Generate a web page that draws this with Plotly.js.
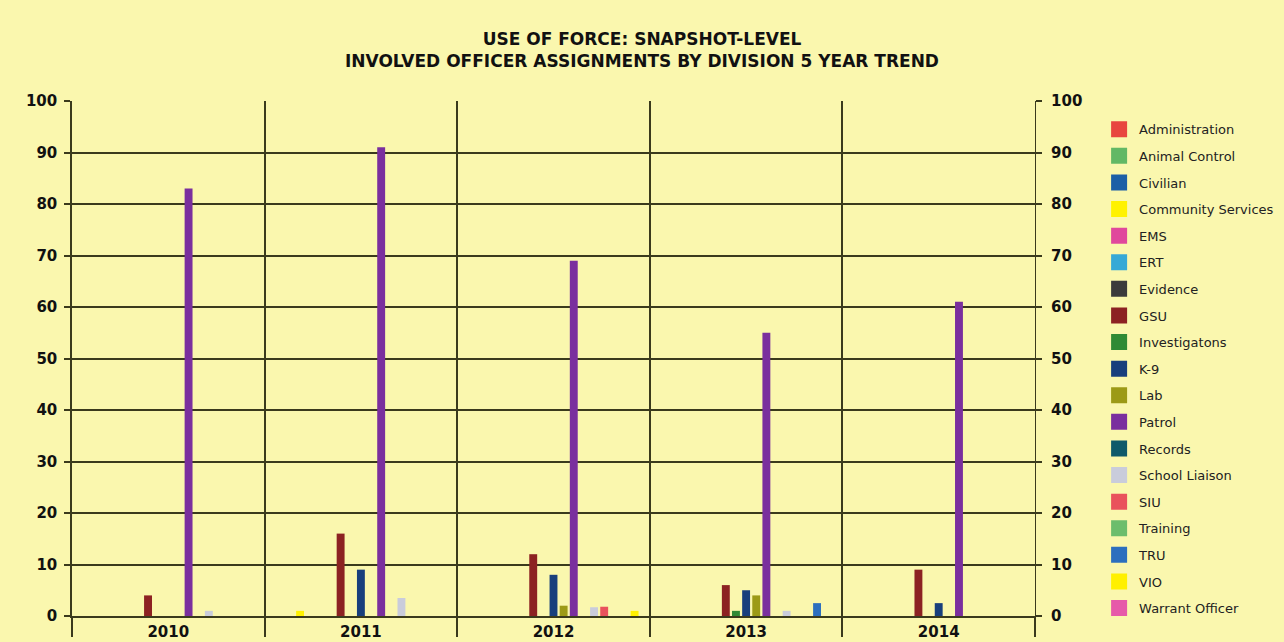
<!DOCTYPE html>
<html>
<head>
<meta charset="utf-8">
<script src="https://cdn.plot.ly/plotly-3.0.1.min.js"></script>
<style>html,body{margin:0;padding:0;background:#FAF7AE;}#chart{width:1284px;height:642px;}</style>
</head>
<body>
<div id="chart"></div>
<script>
const years = ['2010', '2011', '2012', '2013', '2014'];
const divisions = ['Administration', 'Animal Control', 'Civilian', 'Community Services', 'EMS', 'ERT', 'Evidence', 'GSU', 'Investigatons', 'K-9', 'Lab', 'Patrol', 'Records', 'School Liaison', 'SIU', 'Training', 'TRU', 'VIO', 'Warrant Officer'];
const colors = ['#E8463F', '#62B865', '#1C5FA6', '#FFF200', '#E0489C', '#36A9D6', '#3B3B3B', '#8C2222', '#2F8A35', '#183F7C', '#9C9A16', '#7A2F9E', '#0F5A6A', '#C9CCDB', '#E9525C', '#6CBD6C', '#2C6FBE', '#FFF000', '#E65AA9'];
// values per division, by year 2010..2014
const administration = [0, 0, 0, 0, 0];
const animalControl = [0, 0, 0, 0, 0];
const civilian = [0, 0, 0, 0, 0];
const communityServices = [0, 1, 0, 0, 0];
const ems = [0, 0, 0, 0, 0];
const ert = [0, 0, 0, 0, 0];
const evidence = [0, 0, 0, 0, 0];
const gsu = [4, 16, 12, 6, 9];
const investigations = [0, 0, 0, 1, 0];
const k9 = [0, 9, 8, 5, 2.5];
const lab = [0, 0, 2, 4, 0];
const patrol = [83, 91, 69, 55, 61];
const records = [0, 0, 0, 0, 0];
const schoolLiaison = [1, 3.5, 1.7, 1, 0];
const siu = [0, 0, 1.8, 0, 0];
const training = [0, 0, 0, 0, 0];
const tru = [0, 0, 0, 2.5, 0];
const vio = [0, 0, 1, 0, 0];
const warrantOfficer = [0, 0, 0, 0, 0];
const seriesValues = [administration, animalControl, civilian, communityServices, ems, ert, evidence, gsu, investigations, k9, lab, patrol, records, schoolLiaison, siu, training, tru, vio, warrantOfficer];

const traces = divisions.map((name, i) => ({
  type: 'bar',
  name: name,
  x: years,
  y: seriesValues[i],
  marker: {color: colors[i]},
  showlegend: false,
  hoverinfo: 'x+y+name'
}));
// legend entries with larger square swatches
divisions.forEach((name, i) => {
  traces.push({
    type: 'scatter', mode: 'markers', name: name,
    x: [null], y: [null],
    marker: {symbol: 'square', size: 16, color: colors[i]},
    legendgroup: 'g' + i, showlegend: true, hoverinfo: 'skip'
  });
});
// invisible trace on right axis so it is drawn
traces.push({type: 'scatter', x: years, y: [null, null, null, null, null], yaxis: 'y2', showlegend: false, hoverinfo: 'skip'});

const lineCol = '#3a3a1c';
const tickFont = {family: 'DejaVu Sans, Verdana, sans-serif', size: 15, color: '#111', weight: 'bold'};
const layout = {
  width: 1284, height: 642,
  paper_bgcolor: '#FAF7AE', plot_bgcolor: '#FAF7AE',
  margin: {l: 72, r: 249, t: 101, b: 26},
  title: {
    text: '<b>USE OF FORCE: SNAPSHOT-LEVEL<br>INVOLVED OFFICER ASSIGNMENTS BY DIVISION 5 YEAR TREND</b>',
    font: {family: 'DejaVu Sans, Verdana, sans-serif', size: 17, color: '#111'},
    x: 0.5, xref: 'container', xanchor: 'center',
    y: 0.93, yref: 'container', yanchor: 'top'
  },
  barmode: 'group', bargap: 0, bargroupgap: 0.22,
  xaxis: {
    type: 'category', tickson: 'boundaries', showgrid: true, gridcolor: lineCol, gridwidth: 1.5,
    ticks: 'outside', ticklen: 19, tickcolor: lineCol, tickwidth: 1.5,
    ticklabelstandoff: 1,
    tickfont: tickFont, showline: true, linecolor: lineCol, linewidth: 1.5, zeroline: false
  },
  yaxis: {
    range: [0, 100], dtick: 10, showgrid: true, gridcolor: lineCol, gridwidth: 1.5,
    ticks: 'outside', ticklen: 6, tickcolor: lineCol, tickwidth: 1.5,
    showline: true, linecolor: lineCol, linewidth: 1.5, zeroline: false,
    tickfont: tickFont, ticklabelstandoff: 4
  },
  yaxis2: {
    overlaying: 'y', side: 'right', range: [0, 100], dtick: 10, showgrid: false,
    ticks: 'outside', ticklen: 6, tickcolor: lineCol, tickwidth: 1.5,
    showline: true, linecolor: lineCol, linewidth: 1.2, zeroline: false,
    tickfont: tickFont, ticklabelstandoff: 6
  },
  legend: {
    xref: 'container', yref: 'container', x: 0.856, y: 0.822, xanchor: 'left', yanchor: 'top',
    font: {family: 'DejaVu Sans, Verdana, sans-serif', size: 13, color: '#222'},
    bgcolor: 'rgba(0,0,0,0)', tracegroupgap: 6.7, itemwidth: 30, maxheight: 1
  },
  showlegend: true
};
Plotly.newPlot('chart', traces, layout, {displayModeBar: false});
</script>
</body>
</html>
